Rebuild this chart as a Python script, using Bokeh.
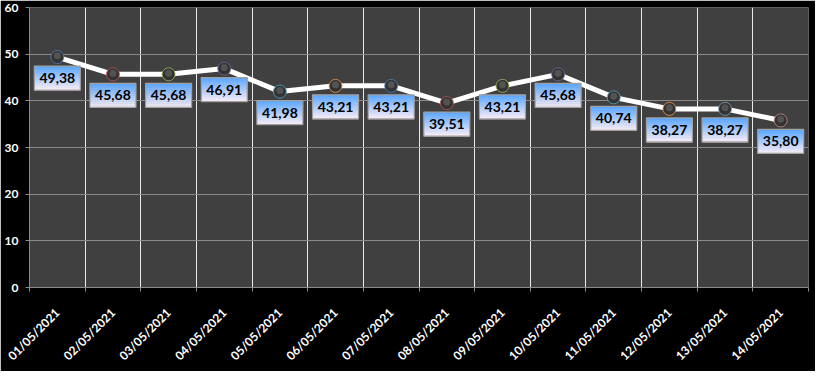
from bokeh.plotting import figure
from bokeh.models import FixedTicker, Range1d, ColumnDataSource
from bokeh.core.properties import value
from bokeh.embed import file_html
from bokeh.resources import INLINE
import math

dates = ["01/05/2021", "02/05/2021", "03/05/2021", "04/05/2021", "05/05/2021",
         "06/05/2021", "07/05/2021", "08/05/2021", "09/05/2021", "10/05/2021",
         "11/05/2021", "12/05/2021", "13/05/2021", "14/05/2021"]
values = [49.38, 45.68, 45.68, 46.91, 41.98, 43.21, 43.21, 39.51, 43.21, 45.68,
          40.74, 38.27, 38.27, 35.80]
marker_colors = ["#4F81BD", "#C0504D", "#9BBB59", "#8064A2", "#4BACC6", "#F79646",
                 "#4F81BD", "#C0504D", "#9BBB59", "#8064A2", "#4BACC6", "#F79646",
                 "#7F9CC0", "#D08A88"]
y_ticks = [0, 10, 20, 30, 40, 50, 60]

n = len(dates)
xs = [i + 0.5 for i in range(n)]
labels = [f"{v:.2f}".replace(".", ",") for v in values]

FRAME_W, FRAME_H = 779, 280
Y0, Y1 = 0, 60
py = (Y1 - Y0) / FRAME_H  # data units per pixel (y)
pxx = n / FRAME_W         # data units per pixel (x)

p = figure(frame_width=FRAME_W, frame_height=FRAME_H, output_backend="svg",
           toolbar_location=None,
           x_range=Range1d(0, n), y_range=Range1d(Y0, Y1),
           min_border_left=29, min_border_right=7, min_border_top=7, min_border_bottom=70)
p.background_fill_color = "#404040"
p.border_fill_color = "#000000"
p.outline_line_color = None

p.xgrid.ticker = FixedTicker(ticks=list(range(n + 1)))
p.xgrid.grid_line_color = "#e8e8e8"
p.ygrid.grid_line_color = "#8a8a8a"

p.yaxis.ticker = FixedTicker(ticks=y_ticks)
p.yaxis.axis_line_color = "#8a8a8a"
p.yaxis.major_tick_line_color = "#8a8a8a"
p.yaxis.major_tick_out = 4
p.yaxis.major_tick_in = 0
p.yaxis.minor_tick_line_color = None
p.yaxis.major_label_text_color = "#ffffff"
p.yaxis.major_label_text_font = "Lato"
p.yaxis.major_label_text_font_style = "bold"
p.yaxis.major_label_text_font_size = "12px"
p.yaxis.major_label_standoff = 7

p.xaxis.ticker = FixedTicker(ticks=xs, minor_ticks=list(range(n + 1)))
p.xaxis.major_label_overrides = {x: d for x, d in zip(xs, dates)}
p.xaxis.axis_line_color = "#8a8a8a"
p.xaxis.major_tick_line_color = None
p.xaxis.minor_tick_line_color = "#8a8a8a"
p.xaxis.minor_tick_out = 4
p.xaxis.minor_tick_in = 0
p.xaxis.major_label_orientation = math.pi / 4
p.xaxis.major_label_text_color = "#ffffff"
p.xaxis.major_label_text_font = "Lato"
p.xaxis.major_label_text_font_style = "bold"
p.xaxis.major_label_text_font_size = "12px"
p.xaxis.major_label_standoff = 17

p.line(xs, values, line_color="#ffffff", line_width=5)

p.scatter(xs, values, size=13, fill_color="#333333", line_color=marker_colors,
          line_width=1.0, line_alpha=0.8)
p.scatter(xs, [v + 1.2 * py for v in values], size=7, fill_color="#6e6e6e",
          fill_alpha=0.55, line_color=None)

# label boxes: quads in data coordinates, strip 0 = top of box (blue), fading to pale
BOX_W, BOX_H, OFF = 46, 24, 21
steps = 12
c_top = (94, 168, 255)
c_bot = (244, 234, 246)
sh = BOX_H / steps
left = [x - BOX_W / 2 * pxx for x in xs]
right = [x + BOX_W / 2 * pxx for x in xs]
for k in range(steps):
    t = k / (steps - 1)
    col = "#%02x%02x%02x" % tuple(int(round(a + (b - a) * t)) for a, b in zip(c_top, c_bot))
    d_top = OFF - BOX_H / 2 + sh * k
    d_bot = d_top + sh + 0.5
    p.quad(left=left, right=right,
           top=[v - d_top * py for v in values], bottom=[v - d_bot * py for v in values],
           fill_color=col, line_color=None)
p.quad(left=left, right=right,
       top=[v - (OFF - BOX_H / 2) * py for v in values],
       bottom=[v - (OFF + BOX_H / 2) * py for v in values],
       fill_color=None, line_color="#a0a0a0", line_width=1.2)

src = ColumnDataSource(dict(x=xs, y=[v - OFF * py for v in values], t=labels))
p.text(x="x", y="y", text="t", source=src, text_align="center", text_baseline="middle",
       text_font=value("Lato"), text_font_style="bold", text_font_size="14px",
       text_color="#000000")

html = file_html(p, INLINE)
html = html.replace("<body>", '<body style="background:#000000;">', 1)
open("out.html", "w").write(html)
